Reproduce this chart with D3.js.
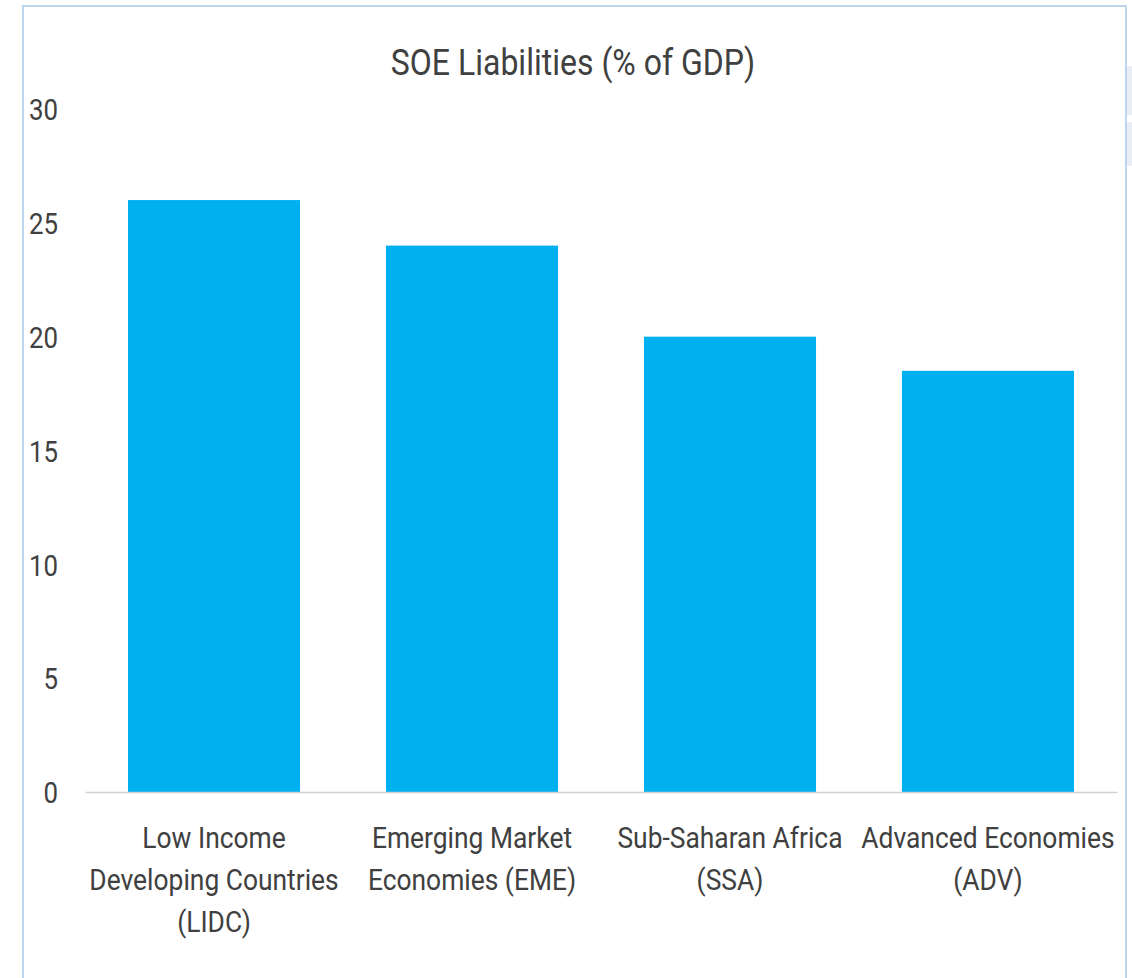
<!DOCTYPE html>
<html>
<head>
    <title>SOE Liabilities</title>
    <style>
        body {
            margin: 0;
            background: #ffffff;
        }
        #chart text {
            font-family: "Roboto", sans-serif;
            fill: #404040;
        }
    </style>
    <script src="https://d3js.org/d3.v7.min.js"></script>
</head>
<body>
    <div id="chart"></div>

    <script>
        var title = "SOE Liabilities (% of GDP)";
        var categories = [
            ["Low Income", "Developing Countries", "(LIDC)"],
            ["Emerging Market", "Economies (EME)"],
            ["Sub-Saharan Africa", "(SSA)"],
            ["Advanced Economies", "(ADV)"]
        ];
        var values = [26, 24, 20, 18.5];
        var yTicks = [0, 5, 10, 15, 20, 25, 30];

        var width = 1132;
        var height = 978;
        var margin = { top: 109, right: 15, bottom: 186, left: 85 };

        // the original font is narrower than Roboto, so squeeze glyphs a bit
        function squeeze(sel, k) {
            sel.each(function() {
                var len = this.getComputedTextLength();
                d3.select(this)
                    .attr("textLength", len * k)
                    .attr("lengthAdjust", "spacingAndGlyphs");
            });
        }

        var svg = d3.select("#chart").append("svg")
            .attr("width", width)
            .attr("height", height);

        // chart frame
        svg.append("rect")
            .attr("x", 23)
            .attr("y", 6)
            .attr("width", 1103)
            .attr("height", 990)
            .attr("fill", "none")
            .attr("stroke", "#bdd6f0")
            .attr("stroke-width", 2);

        // bits of the window behind, at the right edge
        svg.append("rect").attr("x", 1127).attr("y", 66).attr("width", 5).attr("height", 49).attr("fill", "#e9eef5");
        svg.append("rect").attr("x", 1127).attr("y", 122).attr("width", 5).attr("height", 44).attr("fill", "#e9eef5");

        var x = d3.scaleBand()
            .domain(d3.range(categories.length))
            .range([margin.left, width - margin.right])
            .paddingInner(0.333)
            .paddingOuter(0.1667);

        var y = d3.scaleLinear()
            .domain([0, 30])
            .range([height - margin.bottom, margin.top]);

        svg.append("text")
            .attr("x", 573)
            .attr("y", 75)
            .attr("text-anchor", "middle")
            .style("font-size", "37px")
            .text(title)
            .call(squeeze, 0.865);

        var yAxis = svg.append("g")
            .attr("transform", "translate(58,0)")
            .call(d3.axisLeft(y).tickValues(yTicks).tickSize(0).tickPadding(0));
        yAxis.select(".domain").remove();
        yAxis.selectAll("text")
            .style("font-size", "30px")
            .attr("dy", "0.36em")
            .call(squeeze, 0.86);

        svg.selectAll(".bar")
            .data(values)
            .enter().append("rect")
            .attr("class", "bar")
            .attr("x", function(d, i) { return x(i); })
            .attr("y", function(d) { return y(d); })
            .attr("width", x.bandwidth())
            .attr("height", function(d) { return y(0) - y(d); })
            .attr("fill", "#00b0f0");

        var xAxis = svg.append("g")
            .attr("transform", "translate(0," + y(0) + ")")
            .call(d3.axisBottom(x).tickSize(0).tickFormat(""));
        xAxis.select(".domain")
            .attr("stroke", "#d0d0d0")
            .attr("stroke-width", 1.5);

        var lines = [];
        categories.forEach(function(c, i) {
            c.forEach(function(line, j) { lines.push({ line: line, i: i, j: j }); });
        });

        svg.selectAll(".cat")
            .data(lines)
            .enter().append("text")
            .attr("class", "cat")
            .attr("text-anchor", "middle")
            .attr("x", function(d) { return x(d.i) + x.bandwidth() / 2; })
            .attr("y", function(d) { return y(0) + 56 + d.j * 42; })
            .style("font-size", "29px")
            .text(function(d) { return d.line; })
            .call(squeeze, 0.91);
    </script>
</body>
</html>
